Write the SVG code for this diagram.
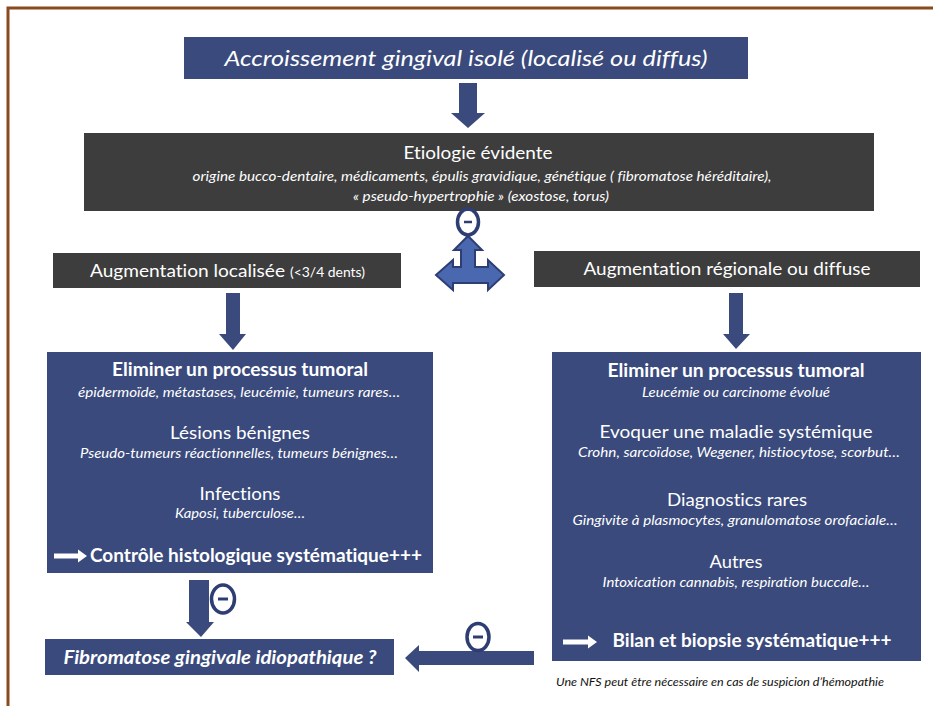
<svg xmlns="http://www.w3.org/2000/svg" width="933" height="706" viewBox="0 0 933 706">
<style>
.blue{fill:#3a4a7c}
.gray{fill:#3d3d3d}
.arr{fill:#3a4a7c}
.t{font-family:Lato,"Liberation Sans",sans-serif;fill:#fff;text-anchor:middle;font-variant-ligatures:none}
.it{font-style:italic}
.b{font-weight:bold}
.theta{fill:none;stroke:#2e3e72;stroke-width:3.5}
</style>
<rect width="933" height="706" fill="#fff"/>
<path d="M8,706 V8 H933" fill="none" stroke="#8a4a1e" stroke-width="3"/>

<g id="n_top">
<rect class="blue" x="184" y="37" width="564" height="42"/>
<text class="t it" x="466" y="66" font-size="22" textLength="483" lengthAdjust="spacingAndGlyphs">Accroissement gingival isolé (localisé ou diffus)</text>
</g>

<g id="n_etio">
<rect class="gray" x="84" y="133" width="790" height="78"/>
<text class="t" x="478" y="159" font-size="17.5" textLength="149" lengthAdjust="spacingAndGlyphs">Etiologie évidente</text>
<text class="t it" x="482" y="181" font-size="13" textLength="579" lengthAdjust="spacingAndGlyphs">origine bucco-dentaire, médicaments, épulis gravidique, génétique ( fibromatose héréditaire),</text>
<text class="t it" x="481" y="201" font-size="13" textLength="256" lengthAdjust="spacingAndGlyphs">« pseudo-hypertrophie » (exostose, torus)</text>
</g>

<g id="n_loc">
<rect class="gray" x="53" y="253" width="348" height="35"/>
<text class="t" x="90" y="277" font-size="17.5" style="text-anchor:start" textLength="195" lengthAdjust="spacingAndGlyphs">Augmentation localisée</text>
<text class="t" x="290" y="277" font-size="12.5" style="text-anchor:start" textLength="75" lengthAdjust="spacingAndGlyphs">(&lt;3/4 dents)</text>
</g>

<g id="n_reg">
<rect class="gray" x="534" y="251" width="386" height="36"/>
<text class="t" x="727" y="275" font-size="17.5" textLength="287" lengthAdjust="spacingAndGlyphs">Augmentation régionale ou diffuse</text>
</g>

<g id="n_left">
<rect class="blue" x="47" y="352" width="386" height="221"/>
<text class="t b" x="240" y="376" font-size="18" textLength="256" lengthAdjust="spacingAndGlyphs">Eliminer un processus tumoral</text>
<text class="t it" x="239" y="397" font-size="13" textLength="322" lengthAdjust="spacingAndGlyphs">épidermoïde, métastases, leucémie, tumeurs rares…</text>
<text class="t" x="240" y="439" font-size="17.5" textLength="140" lengthAdjust="spacingAndGlyphs">Lésions bénignes</text>
<text class="t it" x="239" y="458" font-size="13" textLength="318" lengthAdjust="spacingAndGlyphs">Pseudo-tumeurs réactionnelles, tumeurs bénignes…</text>
<text class="t" x="240" y="500" font-size="17.5" textLength="81" lengthAdjust="spacingAndGlyphs">Infections</text>
<text class="t it" x="240" y="518" font-size="13" textLength="130" lengthAdjust="spacingAndGlyphs">Kaposi, tuberculose…</text>
<polygon points="54,553.5 78,553.5 78,549.5 87,556 78,562.5 78,558.5 54,558.5" fill="#fff"/>
<text class="t b" x="256" y="562" font-size="18" textLength="332" lengthAdjust="spacingAndGlyphs">Contrôle histologique systématique+++</text>
</g>

<g id="n_right">
<rect class="blue" x="552" y="352" width="369" height="309"/>
<text class="t b" x="736" y="377" font-size="18" textLength="257" lengthAdjust="spacingAndGlyphs">Eliminer un processus tumoral</text>
<text class="t it" x="736" y="397" font-size="13" textLength="188" lengthAdjust="spacingAndGlyphs">Leucémie ou carcinome évolué</text>
<text class="t" x="736" y="438" font-size="17.5" textLength="273" lengthAdjust="spacingAndGlyphs">Evoquer une maladie systémique</text>
<text class="t it" x="739" y="457" font-size="13" textLength="322" lengthAdjust="spacingAndGlyphs">Crohn, sarcoïdose, Wegener, histiocytose, scorbut…</text>
<text class="t" x="737" y="506" font-size="17.5" textLength="140" lengthAdjust="spacingAndGlyphs">Diagnostics rares</text>
<text class="t it" x="735" y="525" font-size="13" textLength="325" lengthAdjust="spacingAndGlyphs">Gingivite à plasmocytes, granulomatose orofaciale…</text>
<text class="t" x="736" y="568" font-size="17.5" textLength="53" lengthAdjust="spacingAndGlyphs">Autres</text>
<text class="t it" x="736" y="587" font-size="13" textLength="267" lengthAdjust="spacingAndGlyphs">Intoxication cannabis, respiration buccale…</text>
<polygon points="563,639.5 588,639.5 588,635.5 597,642 588,648.5 588,644.5 563,644.5" fill="#fff"/>
<text class="t b" x="752" y="647" font-size="18" textLength="279" lengthAdjust="spacingAndGlyphs">Bilan et biopsie systématique+++</text>
</g>

<g id="n_fibro">
<rect class="blue" x="45" y="639" width="349" height="36"/>
<text class="t b it" x="220" y="664" font-size="18" textLength="313" lengthAdjust="spacingAndGlyphs">Fibromatose gingivale idiopathique ?</text>
</g>

<g id="n_note">
<text x="556" y="686" font-family="Lato,'Liberation Sans',sans-serif" font-size="11" font-style="italic" fill="#111" textLength="328" lengthAdjust="spacingAndGlyphs">Une NFS peut être nécessaire en cas de suspicion d’hémopathie</text>
</g>

<g id="connectors">
<polygon class="arr" points="459,83 477,83 477,113 485,113 468,128 451,113 459,113"/>
<polygon class="arr" points="226,293 240,293 240,334 246,334 233,350 219,334 226,334"/>
<polygon class="arr" points="729,293 743,293 743,334 750,334 736,349 723,334 729,334"/>
<polygon class="arr" points="189,580 209,580 209,622 214,622 201,637 186,622 189,622"/>
<polygon class="arr" points="534,651 534,665 419,665 419,672 405,658 419,645 419,651"/>
<polygon points="468,236 482,250 475,250 475,267 488,267 488,260 504,275 488,290 488,283 453,283 453,290 436,275 453,260 453,267 461,267 461,250 454,250" fill="#4a68b0" stroke="#2e3e72" stroke-width="2" stroke-linejoin="miter"/>
<ellipse class="theta" cx="468" cy="222" rx="10.5" ry="13"/>
<line x1="464" y1="222" x2="472" y2="222" stroke="#2e3e72" stroke-width="2.5"/>
<ellipse class="theta" cx="223" cy="599" rx="11.5" ry="14"/>
<line x1="218" y1="599" x2="228" y2="599" stroke="#2e3e72" stroke-width="3"/>
<ellipse class="theta" cx="478" cy="637" rx="11" ry="13.5"/>
<line x1="473" y1="637" x2="483" y2="637" stroke="#2e3e72" stroke-width="3"/>
</g>
</svg>
